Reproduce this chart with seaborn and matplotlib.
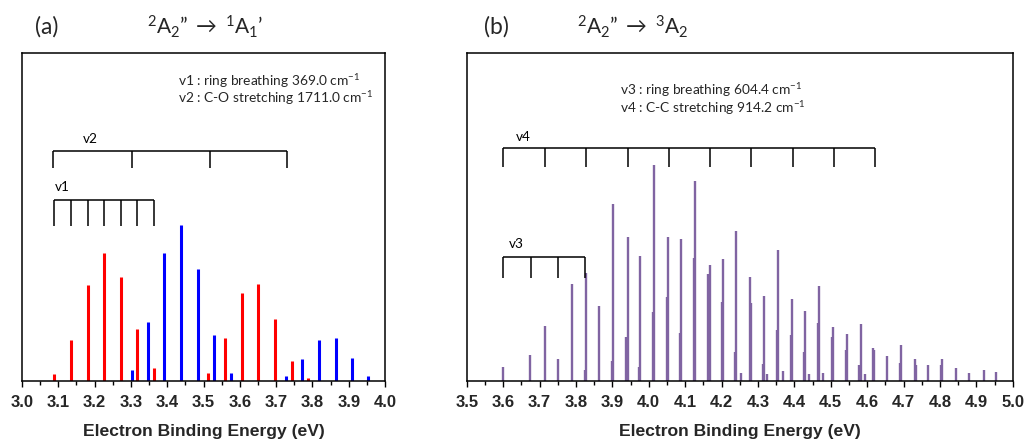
import matplotlib
matplotlib.use("Agg")
import matplotlib.pyplot as plt
import seaborn as sns
from matplotlib.ticker import MultipleLocator, FormatStrFormatter

# (a) 2A2" -> 1A1' : sticks (energy in eV, relative intensity)
red_x = [3.087, 3.135, 3.181, 3.226, 3.272, 3.318, 3.363,
         3.513, 3.560, 3.606, 3.651, 3.698, 3.744, 3.789]
red_y = [0.019, 0.123, 0.291, 0.390, 0.317, 0.156, 0.038,
         0.024, 0.129, 0.267, 0.295, 0.187, 0.060, 0.007]
blue_x = [3.302, 3.347, 3.392, 3.439, 3.485, 3.529, 3.577,
          3.727, 3.772, 3.817, 3.864, 3.909, 3.954]
blue_y = [0.033, 0.178, 0.390, 0.475, 0.340, 0.138, 0.024,
          0.015, 0.065, 0.123, 0.129, 0.069, 0.015]

# (b) 2A2" -> 3A2 : main sticks and the weaker ones sitting right next to them
purple_x = [3.601, 3.675, 3.715, 3.752, 3.789, 3.829, 3.864, 3.902, 3.942, 3.977,
            4.015, 4.054, 4.090, 4.128, 4.168, 4.204, 4.241, 4.254, 4.278, 4.317,
            4.326, 4.355, 4.368, 4.393, 4.430, 4.440, 4.469, 4.479, 4.507, 4.544,
            4.582, 4.593, 4.617, 4.656, 4.694, 4.731, 4.768, 4.807, 4.844, 4.881,
            4.920, 4.955]
purple_y = [0.042, 0.078, 0.167, 0.065, 0.294, 0.329, 0.227, 0.538, 0.437, 0.379,
            0.658, 0.437, 0.433, 0.609, 0.353, 0.371, 0.456, 0.024, 0.316, 0.258,
            0.020, 0.397, 0.029, 0.249, 0.213, 0.020, 0.290, 0.024, 0.162, 0.141,
            0.173, 0.020, 0.100, 0.074, 0.109, 0.065, 0.047, 0.065, 0.038, 0.023,
            0.032, 0.025]
side_x = [3.824, 3.899, 3.938, 3.974, 4.012, 4.050, 4.087, 4.124, 4.164, 4.201,
          4.238, 4.282, 4.314, 4.352, 4.390, 4.427, 4.466, 4.504, 4.541, 4.579,
          4.620, 4.690, 4.734, 4.803]
side_y = [0.032, 0.060, 0.132, 0.041, 0.209, 0.254, 0.146, 0.375, 0.325, 0.240,
          0.088, 0.236, 0.050, 0.154, 0.139, 0.087, 0.177, 0.132, 0.092, 0.047,
          0.092, 0.054, 0.047, 0.047]

# progression combs
v1_pos = [3.087, 3.135, 3.181, 3.226, 3.272, 3.318, 3.364]
v2_pos = [3.086, 3.303, 3.517, 3.729]
v3_pos = [3.601, 3.676, 3.751, 3.826]
v4_pos = [3.601, 3.714, 3.828, 3.942, 4.056, 4.169, 4.282, 4.396, 4.509, 4.621]

RED = "#FF0000"
BLUE = "#0000FF"
PURPLE = "#8064A2"

sns.set_theme(style="white")
plt.rcParams["font.family"] = ["Lato", "DejaVu Sans"]
plt.rcParams["mathtext.fontset"] = "custom"
plt.rcParams["mathtext.rm"] = "Lato"
plt.rcParams["mathtext.it"] = "Lato:italic"
plt.rcParams["mathtext.fallback"] = "stixsans"

W, H = 1025, 440
fig = plt.figure(figsize=(W / 100, H / 100), dpi=100)
ax_a = fig.add_axes([22 / W, 1 - 380.5 / H, 363 / W, 327.5 / H])
ax_b = fig.add_axes([466.7 / W, 1 - 380.5 / H, 546 / W, 327.5 / H])


def draw_comb(ax, pos, y_top, y_bot, label, lx, ly):
    ax.hlines(y_top, pos[0], pos[-1], color="black", lw=1.1)
    ax.vlines(pos, y_bot, y_top, color="black", lw=1.1)
    ax.text(lx, ly, label, fontsize=9.8, ha="left", va="center", color="black")


def style_axes(ax, lo, hi):
    ax.set_xlim(lo, hi)
    ax.set_ylim(0, 1)
    ax.xaxis.set_major_locator(MultipleLocator(0.1))
    ax.xaxis.set_minor_locator(MultipleLocator(0.05))
    ax.xaxis.set_major_formatter(FormatStrFormatter("%.1f"))
    ax.set_yticks([])
    ax.tick_params(axis="x", which="major", bottom=True, direction="out",
                   length=4, width=1, color="black", pad=6.5)
    ax.tick_params(axis="x", which="minor", bottom=True, direction="out",
                   length=3, width=1, color="black")
    for lbl in ax.get_xticklabels():
        lbl.set_fontfamily("Liberation Sans")
        lbl.set_fontweight("bold")
        lbl.set_fontsize(12)
    for sp in ax.spines.values():
        sp.set_color("black")
        sp.set_linewidth(1.1)
    ax.set_xlabel("Electron Binding Energy (eV)", fontfamily="Liberation Sans",
                  fontweight="bold", fontsize=12.6)
    ax.xaxis.label.set_va("baseline")
    ax.xaxis.set_label_coords(0.5, -0.168)


# panel (a)
ax_a.vlines(red_x, 0, red_y, color=RED, lw=2.2)
ax_a.vlines(blue_x, 0, blue_y, color=BLUE, lw=2.2)
draw_comb(ax_a, v2_pos, 0.700, 0.648, "v2", 3.168, 0.737)
draw_comb(ax_a, v1_pos, 0.551, 0.472, "v1", 3.090, 0.590)
ax_a.text(0.431, 0.915, "v1 : ring breathing 369.0 cm$^{-1}$", transform=ax_a.transAxes,
          fontsize=9.9, va="center", ha="left")
ax_a.text(0.431, 0.863, "v2 : C-O stretching 1711.0 cm$^{-1}$", transform=ax_a.transAxes,
          fontsize=9.9, va="center", ha="left")
style_axes(ax_a, 3.0, 4.0)

# panel (b)
ax_b.vlines(side_x, 0, side_y, color=PURPLE, lw=1.7)
ax_b.vlines(purple_x, 0, purple_y, color=PURPLE, lw=1.7)
draw_comb(ax_b, v4_pos, 0.709, 0.651, "v4", 3.634, 0.743)
draw_comb(ax_b, v3_pos, 0.378, 0.312, "v3", 3.615, 0.417)
ax_b.text(0.280, 0.887, "v3 : ring breathing 604.4 cm$^{-1}$", transform=ax_b.transAxes,
          fontsize=9.9, va="center", ha="left")
ax_b.text(0.280, 0.832, "v4 : C-C stretching 914.2 cm$^{-1}$", transform=ax_b.transAxes,
          fontsize=9.9, va="center", ha="left")
style_axes(ax_b, 3.5, 5.0)

# panel letters and transition titles
fig.text(35 / W, 1 - 27 / H, "(a)", fontsize=16.5, va="center", ha="left")
fig.text(147 / W, 1 - 27 / H, "$^{2}$A$_{2}$\u201d $\\rightarrow$ $^{1}$A$_{1}$\u2019",
         fontsize=15, va="center", ha="left")
fig.text(484 / W, 1 - 27 / H, "(b)", fontsize=16.5, va="center", ha="left")
fig.text(577 / W, 1 - 27 / H, "$^{2}$A$_{2}$\u201d $\\rightarrow$ $^{3}$A$_{2}$",
         fontsize=15, va="center", ha="left")

fig.savefig("out.png", dpi=100)
